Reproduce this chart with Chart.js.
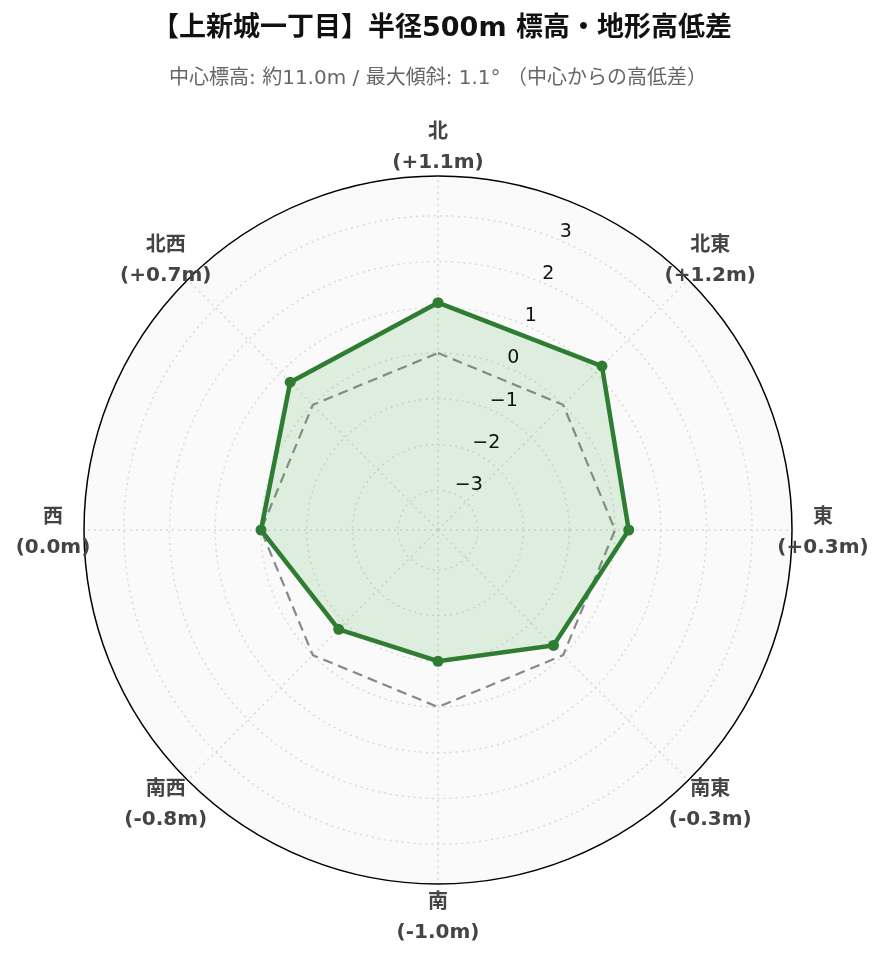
<!DOCTYPE html>
<html>
<head>
<meta charset="utf-8">
<script src="https://cdn.jsdelivr.net/npm/chart.js@4.4.1/dist/chart.umd.min.js"></script>
<style>
html,body{margin:0;padding:0;background:#fff;}
#wrap{position:relative;width:884px;height:962px;overflow:hidden;}
#c{position:absolute;left:0;top:0;}
#title{position:absolute;left:0;top:10px;width:884px;text-align:center;font-weight:bold;font-size:27px;font-family:"DejaVu Sans","Noto Sans CJK JP",sans-serif;color:#111;line-height:34px;white-space:nowrap;}
#sub{position:absolute;left:-4px;top:64px;width:884px;text-align:center;font-size:20px;font-family:"DejaVu Sans","Noto Sans CJK JP",sans-serif;color:#666;line-height:26px;white-space:nowrap;}
</style>
</head>
<body>
<div id="wrap">
  <canvas id="c" width="884" height="962"></canvas>
  <div id="title">【上新城一丁目】半径500m 標高・地形高低差</div>
  <div id="sub">中心標高: 約11.0m / 最大傾斜: 1.1° （中心からの高低差）</div>
</div>
<script>
// ---- data ----
const directions = ['北', '北東', '東', '南東', '南', '南西', '西', '北西'];
const elevationDiff = [1.1, 1.2, 0.3, -0.3, -1.0, -0.8, 0.0, 0.7];
const referenceLevel = [0, 0, 0, 0, 0, 0, 0, 0];
const tickValues = [-3, -2, -1, 0, 1, 2, 3];
const rMin = -3.87;
const rMax = 3.87;

const FONT = '"DejaVu Sans", "Noto Sans CJK JP", sans-serif';

function tickText(v) {
  return v < 0 ? '\u2212' + Math.abs(v) : String(v);
}
function valueText(v) {
  const s = v > 0 ? '+' : (v < 0 ? '-' : '');
  return '(' + s + Math.abs(v).toFixed(1) + 'm)';
}

const polarLabels = {
  id: 'polarLabels',
  afterDraw(chart) {
    const s = chart.scales.r;
    const ctx = chart.ctx;
    ctx.save();
    // radial tick labels along the 22.5° axis
    const ang = 22.5 * Math.PI / 180;
    ctx.font = '19px ' + FONT;
    ctx.fillStyle = '#111';
    ctx.textAlign = 'left';
    ctx.textBaseline = 'middle';
    tickValues.forEach(v => {
      const d = s.getDistanceFromCenterForValue(v);
      const x = s.xCenter + d * Math.sin(ang) + 1.5;
      const y = s.yCenter - d * Math.cos(ang) - 8;
      ctx.fillText(tickText(v), x, y);
    });
    // direction labels
    ctx.font = 'bold 20px ' + FONT;
    ctx.fillStyle = '#444';
    ctx.textAlign = 'center';
    directions.forEach((name, i) => {
      const p = s.getPointPosition(i, s.drawingArea + 31);
      ctx.fillText(name, p.x, p.y - 12);
      ctx.fillText(valueText(elevationDiff[i]), p.x, p.y + 18);
    });
    ctx.restore();
  }
};

new Chart(document.getElementById('c'), {
  type: 'radar',
  data: {
    labels: directions,
    datasets: [
      {
        label: '高低差',
        data: elevationDiff,
        borderColor: '#2e7d32',
        backgroundColor: 'rgba(76,175,80,0.16)',
        borderWidth: 4.5,
        fill: 'start',
        pointRadius: 5.5,
        pointBackgroundColor: '#2e7d32',
        pointBorderColor: '#2e7d32',
        pointBorderWidth: 0,
        tension: 0
      },
      {
        label: '基準',
        data: referenceLevel,
        borderColor: '#888888',
        borderWidth: 2.2,
        borderDash: [10, 6],
        fill: false,
        pointRadius: 0,
        tension: 0
      }
    ]
  },
  options: {
    responsive: false,
    animation: false,
    devicePixelRatio: 1,
    layout: { padding: { left: 84, right: 92, top: 176, bottom: 78 } },
    plugins: {
      legend: { display: false },
      tooltip: { enabled: false },
      title: { display: false }
    },
    scales: {
      r: {
        min: rMin,
        max: rMax,
        backgroundColor: '#fafafa',
        afterBuildTicks: (scale) => {
          scale.ticks = tickValues.concat([rMax]).map(v => ({ value: v }));
        },
        ticks: { display: false },
        pointLabels: { display: false },
        grid: {
          circular: true,
          color: (c) => (c.tick && c.tick.value === rMax) ? '#000000' : '#dadada',
          lineWidth: 1.5
        },
        border: {
          dash: (c) => (c.tick && c.tick.value === rMax) ? [] : [2, 4]
        },
        angleLines: {
          color: '#dadada',
          lineWidth: 1.5,
          borderDash: [2, 4]
        }
      }
    }
  },
  plugins: [polarLabels]
});
</script>
</body>
</html>
